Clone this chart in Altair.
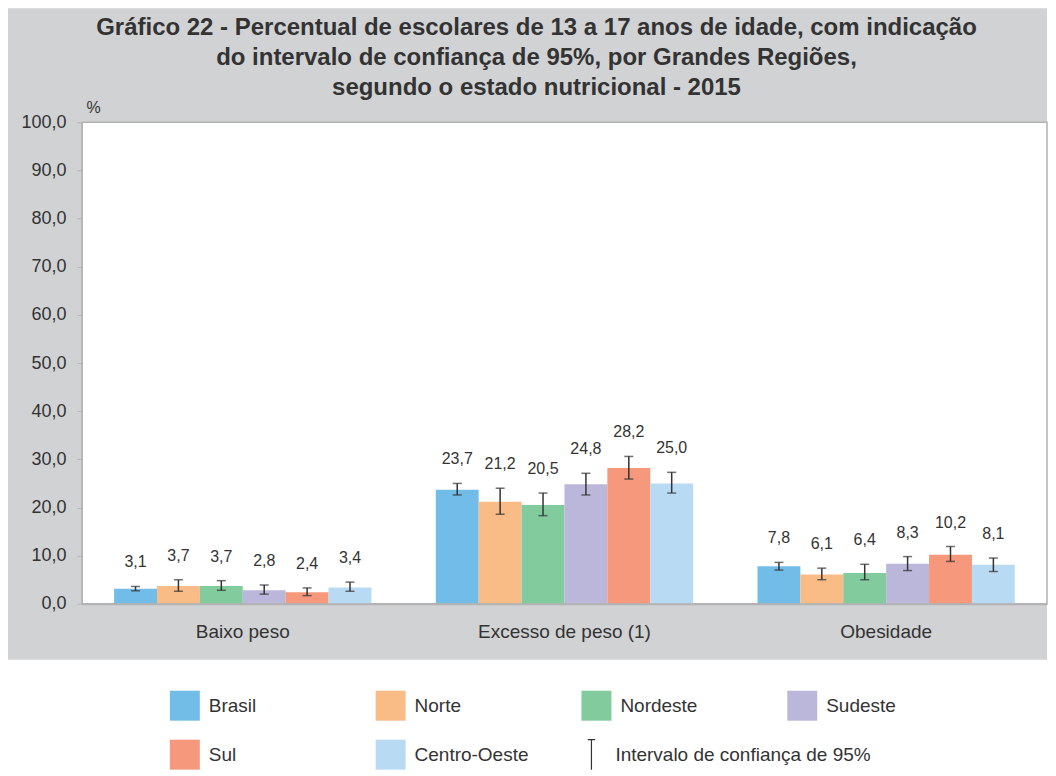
import altair as alt
import pandas as pd

FONT = "Liberation Sans"
TXT = "#333333"

categories = ["Baixo peso", "Excesso de peso (1)", "Obesidade"]
regions = ["Brasil", "Norte", "Nordeste", "Sudeste", "Sul", "Centro-Oeste"]
colors = ["#72bde8", "#f9bc87", "#81cb9d", "#bab7da", "#f5987b", "#b8dbf3"]

baixo_peso = [3.1, 3.7, 3.7, 2.8, 2.4, 3.4]
baixo_peso_lo = [2.7, 2.6, 2.8, 2.0, 1.7, 2.6]
baixo_peso_hi = [3.6, 5.0, 4.8, 3.9, 3.3, 4.5]

excesso = [23.7, 21.2, 20.5, 24.8, 28.2, 25.0]
excesso_lo = [22.6, 18.6, 18.3, 22.6, 25.9, 23.0]
excesso_hi = [25.0, 24.0, 23.0, 27.1, 30.6, 27.3]

obesidade = [7.8, 6.1, 6.4, 8.3, 10.2, 8.1]
obesidade_lo = [7.0, 5.0, 5.0, 6.9, 8.8, 6.7]
obesidade_hi = [8.6, 7.4, 8.2, 9.8, 11.9, 9.5]

y_ticks = [0, 10, 20, 30, 40, 50, 60, 70, 80, 90, 100]
ci_label = "Intervalo de confiança de 95%"
title_lines = [
    "Gráfico 22 - Percentual de escolares de 13 a 17 anos de idade, com indicação",
    "do intervalo de confiança de 95%, por Grandes Regiões,",
    "segundo o estado nutricional - 2015",
]

rows = []
for cat, vals, los, his in [
    (categories[0], baixo_peso, baixo_peso_lo, baixo_peso_hi),
    (categories[1], excesso, excesso_lo, excesso_hi),
    (categories[2], obesidade, obesidade_lo, obesidade_hi),
]:
    for r, v, lo, hi in zip(regions, vals, los, his):
        rows.append({"categoria": cat, "regiao": r, "valor": v, "lo": lo, "hi": hi, "ci": ci_label})
df = pd.DataFrame(rows)

W, H = 966, 482

x_enc = alt.X(
    "categoria:N", sort=categories,
    scale=alt.Scale(paddingInner=0.2, paddingOuter=0.1),
    axis=alt.Axis(title=None, labelAngle=0, ticks=False, labelFontSize=19, labelFont=FONT,
                  labelColor=TXT, labelPadding=19, domainColor="#b3b3b3", domainWidth=2,
                  labelBaseline="top", zindex=2),
)
xo_enc = alt.XOffset("regiao:N", sort=regions, scale=alt.Scale(paddingInner=0, paddingOuter=0))
y_scale = alt.Scale(domain=[0, 100], nice=False, zero=True)
y_axis = alt.Axis(
    values=y_ticks, grid=False, title="%", titleAngle=0, titleX=4, titleY=-15,
    titleAlign="left", titleBaseline="middle", titleFontSize=16, titleFontWeight="normal",
    titleFont=FONT, titleColor=TXT,
    labelExpr="replace(format(datum.value, '.1f'), '.', ',')",
    labelFontSize=18, labelFont=FONT, labelColor=TXT, labelPadding=11,
    tickSize=5, tickColor="#b3b3b3", domainColor="#b3b3b3", zindex=2,
)

base = alt.Chart(df).transform_calculate(
    label="replace(format(datum.valor, '.1f'), '.', ',')"
)

one = pd.DataFrame({"k": [0]})
gray_bg = alt.Chart(one).mark_rect(color="#d1d2d4").encode(
    x=alt.value(-74), x2=alt.value(W), y=alt.value(-114), y2=alt.value(538)
)
white_bg = alt.Chart(one).mark_rect(fill="white", stroke="#b3b3b3", strokeWidth=1.5).encode(
    x=alt.value(0), x2=alt.value(W), y=alt.value(0), y2=alt.value(H)
)

bars = base.mark_bar().encode(
    x=x_enc, xOffset=xo_enc,
    y=alt.Y("valor:Q", scale=y_scale, axis=y_axis),
    color=alt.Color(
        "regiao:N", sort=regions,
        scale=alt.Scale(domain=regions, range=colors),
        legend=alt.Legend(
            title=None, orient="none", legendX=88, legendY=569, direction="horizontal",
            columns=4, gridAlign="all", columnPadding=52, rowPadding=19,
            symbolType="square", symbolSize=900, symbolStrokeWidth=0, symbolOpacity=1,
            labelFontSize=19, labelFont=FONT, labelColor=TXT, labelOffset=9, labelLimit=300,
            padding=0,
        ),
    ),
)

rules = base.mark_rule(color=TXT, strokeWidth=1.5).encode(
    x=x_enc, xOffset=xo_enc,
    y=alt.Y("lo:Q", scale=y_scale, axis=y_axis), y2="hi:Q",
    strokeDash=alt.StrokeDash(
        "ci:N", scale=alt.Scale(domain=[ci_label], range=[[1, 0]]),
        legend=alt.Legend(
            title=None, orient="none", legendX=494, legendY=617,
            symbolType="M0,-1V1M-0.25,-1H0.25", symbolSize=900,
            symbolStrokeColor=TXT, symbolStrokeWidth=1.2,
            labelFontSize=19, labelFont=FONT, labelColor=TXT, labelOffset=8, labelLimit=400,
            padding=0,
        ),
    ),
)

caps_lo = base.mark_tick(color=TXT, thickness=1.5, size=9).encode(
    x=x_enc, xOffset=xo_enc, y=alt.Y("lo:Q", scale=y_scale, axis=y_axis)
)
caps_hi = base.mark_tick(color=TXT, thickness=1.5, size=9).encode(
    x=x_enc, xOffset=xo_enc, y=alt.Y("hi:Q", scale=y_scale, axis=y_axis)
)

labels = base.mark_text(dy=-24, fontSize=16, font=FONT, color=TXT, baseline="middle").encode(
    x=x_enc, xOffset=xo_enc, y=alt.Y("hi:Q", scale=y_scale, axis=y_axis), text="label:N"
)

title_layers = []
for i, line in enumerate(title_lines):
    title_layers.append(
        alt.Chart(pd.DataFrame({"t": [line]})).mark_text(
            font=FONT, fontSize=24, fontWeight="bold", color=TXT, align="center", baseline="middle"
        ).encode(x=alt.value(455), y=alt.value(-94 + 30 * i), text="t:N")
    )

chart = alt.layer(
    gray_bg, white_bg, bars, rules, caps_lo, caps_hi, labels, *title_layers
).properties(
    width=W, height=H, padding=0, background="white"
).configure_view(strokeWidth=0)

chart.save("out.html", embed_options={"renderer": "svg", "actions": False})
